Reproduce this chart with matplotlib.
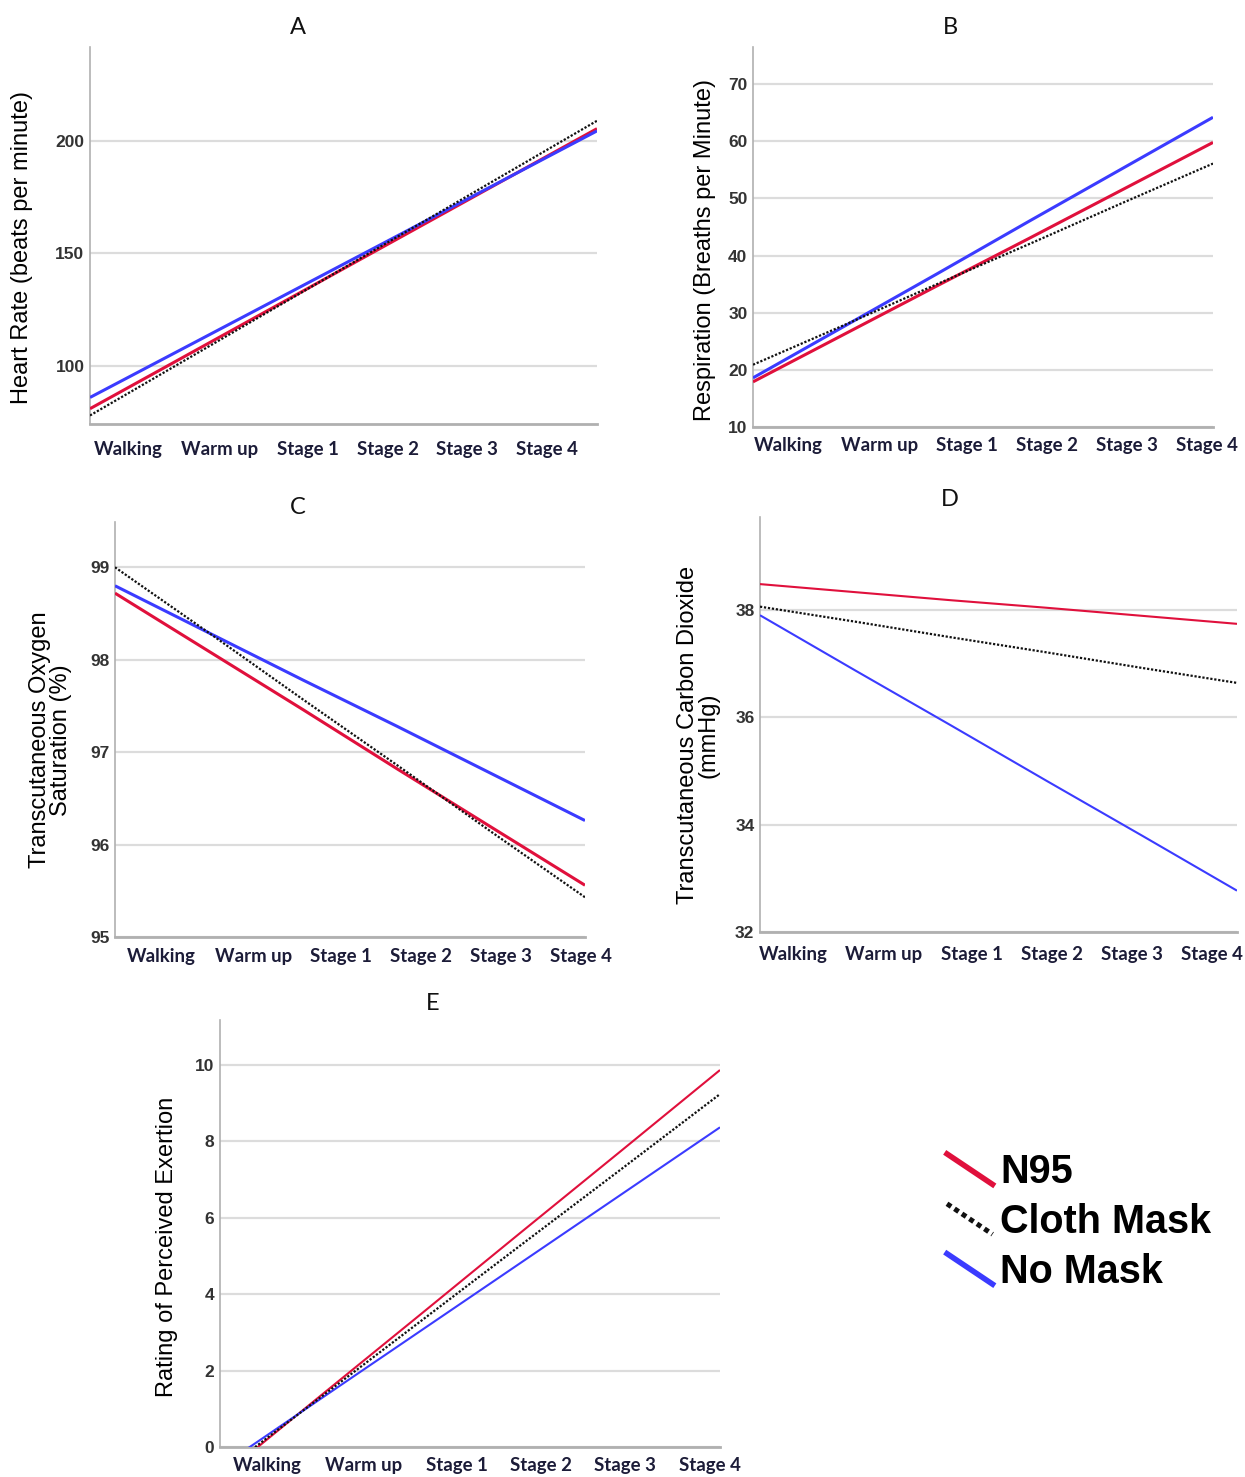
import matplotlib
matplotlib.use("Agg")
import matplotlib.pyplot as plt
from matplotlib.lines import Line2D
from matplotlib.legend_handler import HandlerBase

plt.rcParams['font.family'] = ['Liberation Sans', 'DejaVu Sans']

stages = ["Walking", "Warm up", "Stage 1", "Stage 2", "Stage 3", "Stage 4"]
series_names = ["N95", "Cloth Mask", "No Mask"]

# Panel A: Heart rate
hr_n95 = [81.0, 105.9, 130.8, 155.7, 180.6, 205.5]
hr_cloth = [78.0, 104.2, 130.4, 156.6, 182.8, 209.0]
hr_none = [86.0, 109.7, 133.4, 157.1, 180.8, 204.5]
# Panel B: Respiration
rr_n95 = [17.9, 26.3, 34.7, 43.0, 51.4, 59.8]
rr_cloth = [20.9, 27.9, 35.0, 42.0, 49.1, 56.1]
rr_none = [18.6, 27.7, 36.8, 46.0, 55.1, 64.2]
# Panel C: Oxygen saturation
o2_n95 = [98.72, 98.09, 97.46, 96.82, 96.19, 95.56]
o2_cloth = [99.00, 98.29, 97.57, 96.86, 96.14, 95.43]
o2_none = [98.80, 98.29, 97.78, 97.28, 96.77, 96.26]
# Panel D: CO2
co2_n95 = [38.48, 38.33, 38.18, 38.04, 37.89, 37.74]
co2_cloth = [38.06, 37.78, 37.49, 37.21, 36.92, 36.64]
co2_none = [37.90, 36.87, 35.85, 34.82, 33.80, 32.77]
# Panel E: RPE
rpe_n95 = [-0.81, 1.33, 3.46, 5.60, 7.73, 9.87]
rpe_cloth = [-0.70, 1.29, 3.28, 5.27, 7.25, 9.24]
rpe_none = [-0.53, 1.25, 3.03, 4.81, 6.59, 8.37]

yticks_A = [100, 150, 200]
yticks_B = [10, 20, 30, 40, 50, 60, 70]
yticks_C = [95, 96, 97, 98, 99]
yticks_D = [32, 34, 36, 38]
yticks_E = [0, 2, 4, 6, 8, 10]

RED = '#e0103c'
BLUE = '#3b3bff'
BLACK = '#111111'
GRID = '#dcdcdc'
SPINE = '#b0b0b0'

W, H = 1245, 1477
fig = plt.figure(figsize=(W / 100, H / 100), dpi=100)

def rect(l, t, r, b):
    return [l / W, 1 - b / H, (r - l) / W, (b - t) / H]

panels = [
    dict(title="A", rect=rect(90, 47, 597, 424), data=(hr_n95, hr_cloth, hr_none),
         ylim=(74.2, 241.8), yticks=yticks_A, ylabel="Heart Rate (beats per minute)",
         lab=(-0.112, 0.469), tpos=(298, 27), xfr=[0.075, 0.256, 0.430, 0.588, 0.744, 0.901],
         lw=2.2, xpad=12),
    dict(title="B", rect=rect(753, 47, 1213, 427), data=(rr_n95, rr_cloth, rr_none),
         ylim=(10, 76.5), yticks=yticks_B, ylabel="Respiration (Breaths per Minute)",
         lab=(-0.080, 0.466), tpos=(950, 27), xfr=[0.076, 0.276, 0.465, 0.639, 0.813, 0.987],
         lw=2.2, xpad=7),
    dict(title="C", rect=rect(115, 522, 585, 937), data=(o2_n95, o2_cloth, o2_none),
         ylim=(95, 99.49), yticks=yticks_C, ylabel="Transcutaneous Oxygen\nSaturation (%)",
         lab=(-0.091, 0.475), tpos=(298, 507), xfr=[0.098, 0.294, 0.481, 0.651, 0.821, 0.991],
         lw=2.2, xpad=8),
    dict(title="D", rect=rect(760, 517, 1237, 932), data=(co2_n95, co2_cloth, co2_none),
         ylim=(32, 39.73), yticks=yticks_D, ylabel="Transcutaneous Carbon Dioxide\n(mmHg)",
         lab=(-0.084, 0.475), tpos=(950, 500), xfr=[0.069, 0.260, 0.444, 0.612, 0.780, 0.948],
         lw=1.5, xpad=10),
    dict(title="E", rect=rect(220, 1020, 720, 1447), data=(rpe_n95, rpe_cloth, rpe_none),
         ylim=(0, 11.18), yticks=yticks_E, ylabel="Rating of Perceived Exertion",
         lab=(-0.084, 0.468), tpos=(433, 1003), xfr=[0.094, 0.288, 0.474, 0.642, 0.810, 0.980],
         lw=1.5, xpad=7),
]

xs = list(range(len(stages)))
for p in panels:
    ax = fig.add_axes(p["rect"])
    n95, cloth, none = p["data"]
    ax.plot(xs, n95, color=RED, lw=p["lw"], solid_capstyle='butt', zorder=3)
    ax.plot(xs, cloth, color=BLACK, lw=1.6, linestyle=(0, (1, 0.8)), zorder=4)
    ax.plot(xs, none, color=BLUE, lw=p["lw"], solid_capstyle='butt', zorder=3)
    ax.set_xlim(0, 5)
    ax.set_ylim(*p["ylim"])
    ax.set_yticks(p["yticks"])
    ax.set_yticklabels([str(v) for v in p["yticks"]], fontsize=12.5, fontweight='bold', color='#333333')
    ax.set_xticks([f * 5 for f in p["xfr"]])
    ax.set_xticklabels(stages, fontsize=13.4, fontweight='bold', color='#1c1c38', family=['Lato', 'DejaVu Sans'])
    ax.tick_params(axis='both', length=0)
    ax.tick_params(axis='x', pad=p["xpad"])
    ax.tick_params(axis='y', pad=4)
    ax.grid(axis='y', color=GRID, lw=1.6, zorder=0)
    ax.set_axisbelow(True)
    for s in ['top', 'right']:
        ax.spines[s].set_visible(False)
    ax.spines['left'].set_color(SPINE)
    ax.spines['left'].set_linewidth(1.2)
    ax.spines['bottom'].set_color(SPINE)
    ax.spines['bottom'].set_linewidth(2.0)
    ax.set_ylabel(p["ylabel"], fontsize=17, color='#000000', linespacing=0.95)
    ax.yaxis.set_label_coords(*p["lab"])
    fig.text(p["tpos"][0] / W, 1 - p["tpos"][1] / H, p["title"], fontsize=17,
             ha='center', va='center', family=['Lato', 'DejaVu Sans'], color='#111111')


class DiagHandler(HandlerBase):
    def create_artists(self, legend, orig_handle, xdescent, ydescent, width, height, fontsize, trans):
        line = Line2D([-xdescent, -xdescent + width], [height * 1.05, -height * 0.05])
        line.update_from(orig_handle)
        line.set_transform(trans)
        return [line]


legend_handles = [Line2D([], [], color=RED, lw=4.0),
                  Line2D([], [], color=BLACK, lw=3.6, linestyle=(0, (1, 0.8))),
                  Line2D([], [], color=BLUE, lw=4.0)]
fig.legend(legend_handles, series_names, loc='upper left',
           bbox_to_anchor=(947 / W, 1 - 1153 / H), frameon=False,
           prop=dict(size=28.5, weight='bold'), handlelength=1.15, handleheight=0.7,
           handletextpad=0.2, labelspacing=0.3, borderpad=0, borderaxespad=0,
           handler_map={Line2D: DiagHandler()})

fig.savefig("out.png", dpi=100, facecolor='white')
